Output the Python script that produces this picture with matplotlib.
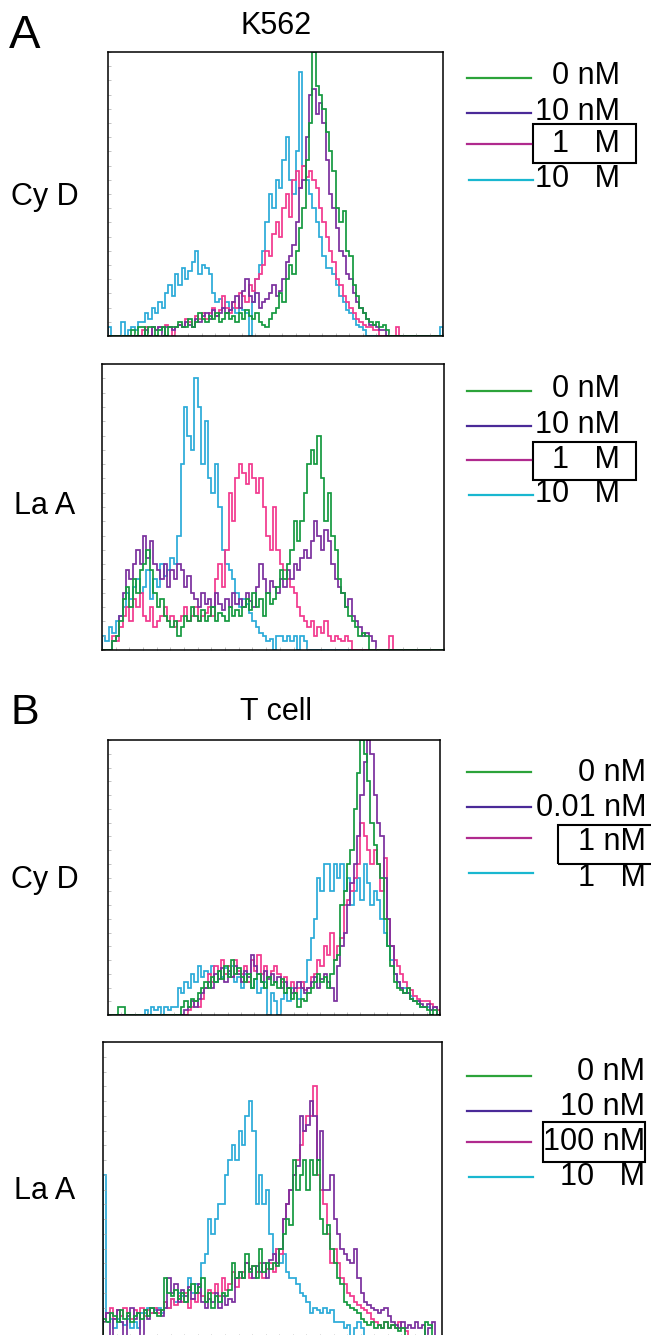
import numpy as np
import matplotlib
matplotlib.use("Agg")
from matplotlib import pyplot as plt
from matplotlib.lines import Line2D
from matplotlib.patches import Rectangle

plt.rcParams['font.family'] = ['Liberation Sans', 'DejaVu Sans']

W, H = 651, 1335

# channel counts (100 channels, scaled so the top of the box = 100)
a1_green = [0, 0, 0, 0, 0, 0, 0, 2, 0, 3,
            3, 0, 3, 3, 0, 2, 3, 0, 3, 3,
            3, 5, 3, 3, 6, 3, 5, 8, 6, 5,
            7, 6, 8, 5, 6, 8, 6, 7, 5, 8,
            6, 9, 7, 6, 8, 5, 4, 3, 6, 8,
            10, 15, 12, 20, 25, 22, 30, 38, 45, 62,
            75, 100, 88, 85, 80, 72, 65, 58, 45, 40,
            44, 30, 28, 18, 14, 10, 8, 6, 5, 4,
            5, 3, 4, 2, 0, 0, 0, 0, 0, 0,
            0, 0, 0, 0, 0, 0, 0, 0, 0, 0]
a1_purple = [0, 0, 0, 0, 0, 0, 0, 0, 0, 0,
             0, 2, 0, 3, 2, 3, 0, 3, 3, 2,
             3, 4, 3, 5, 4, 3, 6, 5, 7, 8,
             6, 9, 7, 8, 10, 8, 9, 12, 14, 10,
             16, 20, 14, 12, 15, 10, 12, 13, 15, 18,
             14, 16, 20, 26, 28, 32, 40, 52, 55, 70,
             85, 87, 78, 82, 75, 62, 50, 45, 38, 30,
             28, 22, 20, 15, 12, 10, 8, 6, 4, 4,
             3, 2, 2, 0, 0, 0, 0, 0, 0, 0,
             0, 0, 0, 0, 0, 0, 0, 0, 0, 0]
a1_pink = [0, 0, 0, 0, 0, 0, 0, 0, 0, 0,
           2, 3, 0, 3, 2, 3, 3, 4, 3, 0,
           3, 4, 3, 6, 5, 3, 7, 6, 8, 6,
           8, 10, 7, 9, 14, 10, 8, 12, 10, 15,
           14, 12, 18, 16, 20, 22, 25, 30, 28, 36,
           40, 35, 45, 50, 42, 55, 58, 52, 60, 56,
           58, 55, 52, 45, 40, 35, 30, 26, 20, 18,
           14, 12, 10, 8, 6, 5, 4, 3, 3, 2,
           2, 0, 0, 0, 0, 0, 3, 0, 0, 0,
           0, 0, 0, 0, 0, 0, 0, 0, 0, 0]
a1_cyan = [3, 0, 0, 0, 5, 0, 2, 3, 2, 5,
           5, 8, 6, 10, 8, 12, 10, 15, 18, 14,
           22, 18, 24, 20, 23, 26, 30, 22, 25, 24,
           22, 15, 12, 13, 10, 12, 9, 10, 8, 10,
           9, 8, 0, 12, 20, 25, 30, 40, 50, 45,
           55, 52, 62, 70, 55, 50, 65, 93, 60, 55,
           50, 45, 40, 35, 28, 24, 24, 22, 18, 14,
           12, 9, 8, 6, 4, 3, 2, 0, 0, 0,
           0, 0, 0, 0, 0, 0, 0, 0, 0, 0,
           0, 0, 0, 0, 0, 0, 0, 0, 0, 3]

a2_green = [0, 0, 0, 3, 5, 10, 18, 22, 15, 25,
            20, 28, 30, 35, 28, 20, 15, 18, 12, 10,
            8, 10, 5, 8, 12, 10, 15, 12, 10, 14,
            10, 12, 15, 10, 13, 12, 10, 15, 12, 14,
            12, 15, 18, 14, 20, 15, 18, 12, 20, 16,
            18, 22, 28, 25, 30, 35, 45, 38, 45, 55,
            65, 70, 65, 75, 60, 45, 55, 40, 35, 25,
            20, 15, 12, 10, 8, 5, 6, 5, 0, 0,
            0, 0, 0, 0, 0, 0, 0, 0, 0, 0,
            0, 0, 0, 0, 0, 0, 0, 0, 0, 0]
a2_purple = [0, 0, 0, 3, 5, 12, 20, 28, 25, 30,
             35, 30, 40, 32, 38, 30, 28, 25, 30, 22,
             28, 25, 30, 28, 22, 26, 20, 18, 15, 20,
             16, 18, 15, 20, 16, 14, 18, 15, 20, 16,
             18, 15, 20, 17, 15, 22, 30, 25, 20, 24,
             22, 20, 25, 22, 28, 25, 30, 28, 32, 35,
             32, 38, 45, 40, 35, 42, 38, 30, 25, 22,
             20, 15, 18, 12, 10, 8, 5, 6, 5, 3,
             0, 0, 0, 0, 0, 0, 0, 0, 0, 0,
             0, 0, 0, 0, 0, 0, 0, 0, 0, 0]
a2_pink = [0, 0, 0, 5, 3, 8, 12, 15, 10, 18,
           15, 20, 12, 10, 15, 8, 10, 12, 15, 10,
           12, 8, 10, 12, 15, 10, 12, 15, 10, 12,
           13, 15, 12, 25, 30, 22, 35, 55, 45, 60,
           65, 62, 58, 65, 60, 55, 60, 50, 40, 35,
           50, 35, 30, 28, 25, 22, 20, 15, 12, 10,
           8, 10, 5, 8, 6, 10, 5, 3, 5, 4,
           3, 5, 3, 0, 0, 0, 0, 0, 0, 0,
           0, 0, 0, 0, 5, 0, 0, 0, 0, 0,
           0, 0, 0, 0, 0, 0, 0, 0, 0, 0]
a2_cyan = [5, 3, 8, 6, 10, 12, 15, 20, 18, 22,
           25, 20, 22, 28, 18, 25, 22, 30, 26, 28,
           32, 30, 40, 65, 85, 75, 70, 95, 85, 65,
           80, 60, 55, 65, 50, 35, 30, 28, 25, 20,
           15, 18, 16, 13, 10, 8, 6, 5, 3, 4,
           0, 5, 5, 3, 5, 3, 5, 0, 5, 3,
           0, 0, 0, 0, 0, 0, 0, 0, 0, 0,
           0, 0, 0, 0, 0, 0, 0, 0, 0, 0,
           0, 0, 0, 0, 0, 0, 0, 0, 0, 0,
           0, 0, 0, 0, 0, 0, 0, 0, 0, 0]

b1_green = [0, 0, 0, 3, 3, 0, 0, 0, 0, 0,
            0, 0, 0, 0, 0, 0, 0, 0, 0, 0,
            0, 0, 3, 5, 3, 6, 5, 8, 10, 12,
            10, 14, 12, 16, 13, 18, 14, 20, 15, 17,
            14, 12, 15, 10, 13, 15, 12, 10, 14, 11,
            12, 10, 13, 8, 10, 6, 8, 3, 6, 5,
            8, 10, 12, 15, 12, 14, 10, 15, 20, 22,
            40, 45, 55, 60, 75, 88, 100, 95, 85, 70,
            62, 55, 50, 35, 25, 18, 12, 10, 9, 8,
            10, 6, 5, 4, 3, 3, 2, 0, 2, 0]
b1_purple = [0, 0, 0, 0, 0, 0, 0, 0, 0, 0,
             0, 0, 0, 0, 0, 0, 0, 0, 0, 0,
             0, 0, 0, 2, 3, 5, 3, 6, 8, 10,
             12, 10, 15, 13, 17, 12, 16, 14, 18, 15,
             12, 16, 14, 22, 18, 15, 12, 16, 13, 15,
             12, 14, 10, 12, 10, 8, 10, 12, 10, 8,
             10, 12, 14, 10, 13, 15, 12, 10, 5, 18,
             25, 30, 40, 48, 55, 65, 80, 92, 100, 95,
             80, 70, 65, 50, 35, 25, 15, 12, 10, 8,
             8, 6, 5, 5, 4, 3, 4, 2, 3, 0]
b1_pink = [0, 0, 0, 0, 0, 0, 0, 0, 0, 0,
           0, 0, 0, 0, 0, 0, 0, 0, 0, 0,
           0, 0, 0, 0, 2, 3, 5, 3, 6, 10,
           15, 12, 18, 16, 20, 15, 18, 14, 20, 16,
           15, 18, 12, 20, 16, 22, 15, 18, 14, 16,
           18, 15, 12, 14, 10, 12, 8, 10, 12, 9,
           10, 14, 15, 20, 18, 25, 22, 30, 20, 25,
           28, 40, 42, 45, 50, 55, 70, 65, 60, 55,
           60, 55, 45, 57, 35, 25, 20, 18, 15, 12,
           10, 9, 7, 6, 5, 5, 5, 4, 3, 2]
b1_cyan = [0, 0, 0, 0, 0, 0, 0, 0, 0, 0,
           0, 2, 0, 3, 2, 3, 0, 3, 2, 3,
           3, 10, 8, 12, 10, 15, 12, 18, 14, 16,
           15, 18, 12, 16, 14, 17, 15, 18, 12, 14,
           10, 15, 12, 10, 13, 8, 10, 12, 0, 8,
           5, 0, 6, 8, 5, 10, 8, 6, 10, 12,
           20, 28, 35, 50, 45, 55, 55, 45, 55, 50,
           55, 45, 50, 40, 45, 50, 42, 55, 48, 40,
           45, 42, 35, 30, 25, 20, 15, 12, 10, 10,
           8, 7, 5, 5, 3, 3, 3, 2, 3, 0]

b2_green = [6, 5, 8, 7, 5, 9, 6, 8, 5, 7,
            8, 6, 9, 7, 10, 8, 7, 9, 20, 15,
            14, 16, 13, 15, 12, 16, 18, 15, 17, 20,
            12, 15, 10, 14, 12, 15, 14, 16, 25, 20,
            22, 20, 28, 22, 24, 20, 30, 22, 25, 23,
            25, 24, 30, 35, 40, 38, 60, 50, 55, 60,
            50, 60, 55, 60, 40, 35, 38, 30, 25, 20,
            18, 12, 11, 10, 9, 8, 6, 5, 4, 5,
            3, 4, 3, 5, 3, 4, 3, 2, 3, 0,
            0, 0, 0, 0, 0, 5, 4, 0, 0, 0]
b2_purple = [5, 8, 0, 6, 9, 5, 0, 7, 10, 6,
             8, 0, 9, 6, 10, 8, 9, 7, 10, 20,
             15, 18, 12, 16, 14, 17, 13, 15, 18, 12,
             10, 13, 12, 15, 10, 14, 11, 13, 12, 20,
             22, 20, 25, 23, 20, 24, 22, 25, 20, 26,
             28, 25, 30, 40, 45, 50, 55, 58, 75, 70,
             72, 80, 75, 60, 70, 50, 50, 55, 40, 35,
             30, 28, 26, 25, 30, 20, 15, 12, 11, 10,
             9, 8, 9, 10, 7, 5, 4, 3, 5, 3,
             4, 3, 5, 3, 4, 0, 3, 5, 0, 0]
b2_pink = [5, 8, 10, 6, 9, 7, 10, 8, 6, 9,
           8, 10, 7, 9, 8, 10, 8, 9, 12, 10,
           13, 11, 14, 12, 15, 10, 13, 12, 15, 14,
           12, 16, 15, 18, 14, 20, 16, 18, 22, 17,
           20, 22, 25, 20, 24, 22, 25, 20, 23, 25,
           22, 30, 28, 40, 45, 50, 55, 60, 65, 70,
           75, 75, 85, 55, 50, 45, 35, 25, 30, 25,
           20, 18, 15, 14, 12, 11, 10, 9, 8, 6,
           5, 4, 3, 5, 3, 4, 3, 5, 3, 2,
           0, 0, 0, 0, 0, 0, 0, 0, 0, 0]
b2_cyan = [55, 5, 6, 3, 6, 5, 4, 6, 3, 5,
           3, 8, 8, 10, 8, 9, 10, 8, 12, 10,
           13, 12, 15, 14, 12, 20, 15, 18, 15, 25,
           28, 40, 35, 40, 45, 45, 55, 60, 65, 60,
           70, 65, 75, 80, 70, 45, 55, 45, 50, 35,
           28, 30, 25, 28, 22, 20, 20, 18, 15, 14,
           12, 8, 10, 9, 8, 10, 8, 9, 5, 5,
           5, 3, 4, 0, 3, 5, 3, 0, 0, 0,
           0, 0, 0, 0, 0, 0, 0, 0, 0, 0,
           0, 0, 0, 0, 0, 0, 0, 0, 0, 0]

labels_a1 = ['0 nM', '10 nM', '1   M', '10   M']
labels_a2 = ['0 nM', '10 nM', '1   M', '10   M']
labels_b1 = ['0 nM', '0.01 nM', '1 nM', '1   M']
labels_b2 = ['0 nM', '10 nM', '100 nM', '10   M']

plot_colors = ['#14993f', '#7a2f9e', '#f2388e', '#2aaad8']
legend_colors = ['#2ca33a', '#4a2a98', '#b02a8e', '#19b7d0']

fig = plt.figure(figsize=(W / 100, H / 100), dpi=100)


def fx(x):
    return x / W


def fy(y):
    return 1 - y / H


def panel(box, series):
    x0, y0, x1, y1 = box
    ax = fig.add_axes([fx(x0), fy(y1), (x1 - x0) / W, (y1 - y0) / H])
    edges = np.arange(len(series[0]) + 1)
    # draw cyan first so the others sit over it
    for vals, col in reversed(list(zip(series, plot_colors))):
        ax.stairs(vals, edges, color=col, lw=1.25, baseline=0)
    ax.set_xlim(0, 100)
    ax.set_ylim(0, 100)
    ax.set_xticks(np.arange(0, 101, 4))
    ax.set_yticks(np.arange(0, 101, 5))
    ax.tick_params(direction='in', length=2, width=0.5, colors='#aaaaaa',
                   labelbottom=False, labelleft=False)
    for s in ax.spines.values():
        s.set_linewidth(1.1)
        s.set_color('black')
    return ax


def legend(labels, line_y, text_y, text_right, box):
    for lab, ly, ty, col in zip(labels, line_y, text_y, legend_colors):
        x0, x1 = (469, 533) if col == legend_colors[3] else (467, 531)
        fig.add_artist(Line2D([fx(x0), fx(x1)], [fy(ly), fy(ly)],
                              color=col, lw=1.6))
        fig.text(fx(text_right), fy(ty), lab, fontsize=22,
                 ha='right', va='center')
    bx0, by0, bx1, by1 = box
    fig.add_artist(Rectangle((fx(bx0), fy(by1)), (bx1 - bx0) / W,
                             (by1 - by0) / H, fill=False, lw=1.5,
                             edgecolor='black'))


panel((108, 52, 443, 336), [a1_green, a1_purple, a1_pink, a1_cyan])
panel((102, 364, 444, 650), [a2_green, a2_purple, a2_pink, a2_cyan])
panel((108, 740, 440, 1015), [b1_green, b1_purple, b1_pink, b1_cyan])
panel((103, 1042, 442, 1337), [b2_green, b2_purple, b2_pink, b2_cyan])

legend(labels_a1, [78, 113, 144, 180], [76, 112, 144, 179], 620,
       (533, 124, 636, 163))
legend(labels_a2, [391, 426, 460, 495], [389, 425, 460, 494], 620,
       (533, 442, 636, 480))
legend(labels_b1, [772, 807, 838, 873], [773, 808, 842, 878], 646,
       (558, 825, 660, 864))
legend(labels_b2, [1076, 1111, 1142, 1177], [1072, 1107, 1142, 1177], 645,
       (543, 1122, 645, 1162))

fig.text(fx(25), fy(36), 'A', fontsize=34, ha='center', va='center')
fig.text(fx(25), fy(713), 'B', fontsize=31, ha='center', va='center')
fig.text(fx(276), fy(26), 'K562', fontsize=22, ha='center', va='center')
fig.text(fx(276), fy(712), 'T cell', fontsize=22, ha='center', va='center')
fig.text(fx(45), fy(197), 'Cy D', fontsize=22, ha='center', va='center')
fig.text(fx(45), fy(506), 'La A', fontsize=22, ha='center', va='center')
fig.text(fx(45), fy(880), 'Cy D', fontsize=22, ha='center', va='center')
fig.text(fx(45), fy(1191), 'La A', fontsize=22, ha='center', va='center')

fig.savefig('out.png', dpi=100)
plt.close(fig)
